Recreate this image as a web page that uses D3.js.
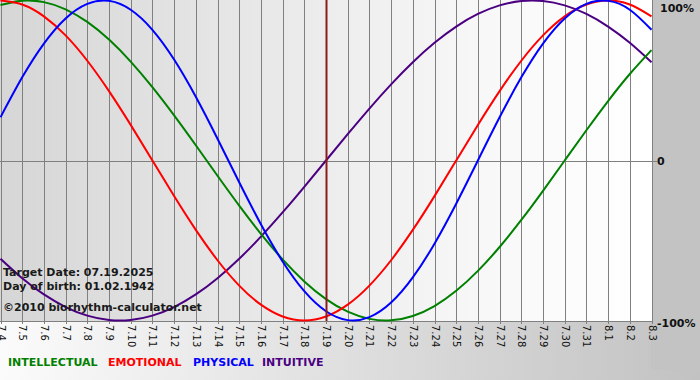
<!DOCTYPE html>
<html><head><meta charset="utf-8">
<script src="https://cdn.jsdelivr.net/npm/d3@7"></script>
<style>html,body{margin:0;padding:0;background:#fff;}svg{display:block;}</style>
</head><body><div id="chart"></div>
<script>
const days = ["7.4","7.5","7.6","7.7","7.8","7.9","7.10","7.11","7.12","7.13","7.14","7.15","7.16","7.17","7.18","7.19","7.20","7.21","7.22","7.23","7.24","7.25","7.26","7.27","7.28","7.29","7.30","7.31","8.1","8.2","8.3"];
const intellectual = [0.9718,0.9989,0.9898,0.9450,0.8660,0.7557,0.6182,0.4582,0.2817,0.0951,-0.0951,-0.2817,-0.4582,-0.6182,-0.7557,-0.8660,-0.9450,-0.9898,-0.9989,-0.9718,-0.9096,-0.8146,-0.6901,-0.5406,-0.3717,-0.1893,0,0.1893,0.3717,0.5406,0.6901];
const emotional = [1,0.9749,0.9010,0.7818,0.6235,0.4339,0.2225,0,-0.2225,-0.4339,-0.6235,-0.7818,-0.9010,-0.9749,-1,-0.9749,-0.9010,-0.7818,-0.6235,-0.4339,-0.2225,0,0.2225,0.4339,0.6235,0.7818,0.9010,0.9749,1,0.9749,0.9010];
const physical = [0.2698,0.5196,0.7308,0.8879,0.9791,0.9977,0.9423,0.8170,0.6311,0.3984,0.1362,-0.1362,-0.3984,-0.6311,-0.8170,-0.9423,-0.9977,-0.9791,-0.8879,-0.7308,-0.5196,-0.2698,0,0.2698,0.5196,0.7308,0.8879,0.9791,0.9977,0.9423,0.8170];
const intuitive = [-0.6142,-0.7357,-0.8372,-0.9158,-0.9694,-0.9966,-0.9966,-0.9694,-0.9158,-0.8372,-0.7357,-0.6142,-0.4759,-0.3247,-0.1646,0,0.1646,0.3247,0.4759,0.6142,0.7357,0.8372,0.9158,0.9694,0.9966,0.9966,0.9694,0.9158,0.8372,0.7357,0.6142];
const seriesNames = ["INTELLECTUAL","EMOTIONAL","PHYSICAL","INTUITIVE"];
const seriesColors = ["#008000","#ff0000","#0000ff","#4b0082"];
const yTickLabels = ["100%","0","-100%"];
const yTickValues = [1,0,-1];
const targetDay = "7.19";
const infoLines = ["Target Date: 07.19.2025","Day of birth: 01.02.1942","©2010 biorhythm-calculator.net"];

const W = 700, H = 380;
const svg = d3.select("#chart").append("svg").attr("width", W).attr("height", H);
const defs = svg.append("defs");
const gBg = defs.append("linearGradient").attr("id","bgGrad").attr("x1","0").attr("x2","1").attr("y1","0").attr("y2","0");
gBg.append("stop").attr("offset","0").attr("stop-color","#fbfbfb");
gBg.append("stop").attr("offset","1").attr("stop-color","#c2c2c2");
const gPlot = defs.append("linearGradient").attr("id","plotGrad").attr("x1","0").attr("x2","1").attr("y1","0").attr("y2","0");
gPlot.append("stop").attr("offset","0").attr("stop-color","#d6d6d6");
gPlot.append("stop").attr("offset","0.75").attr("stop-color","#f8f8f8");
gPlot.append("stop").attr("offset","1").attr("stop-color","#ffffff");

svg.append("rect").attr("width",W).attr("height",H).attr("fill","url(#bgGrad)");

const plotL = 0, plotR = 651, plotT = 0, plotB = 321;
svg.append("rect").attr("x",plotR).attr("y",0).attr("width",W-plotR).attr("height",370).attr("fill","#c3c3c3");

const x = d3.scaleLinear().domain([0, days.length-1]).range([plotL+0.5, plotR+0.5]);
const y = d3.scaleLinear().domain([-1,1]).range([plotB-0.5, plotT+0.5]);

svg.append("rect").attr("x",plotL).attr("y",plotT).attr("width",plotR-plotL+1).attr("height",plotB-plotT).attr("fill","url(#plotGrad)");

// vertical grid
svg.append("g").selectAll("line").data(days).join("line")
  .attr("x1",(d,i)=>Math.round(x(i))+0.5).attr("x2",(d,i)=>Math.round(x(i))+0.5)
  .attr("y1",plotT).attr("y2",plotB+3)
  .attr("stroke","#808080").attr("stroke-width",1);
// zero line
svg.append("line").attr("x1",plotL).attr("x2",plotR+6).attr("y1",Math.round(y(0))+0.5).attr("y2",Math.round(y(0))+0.5)
  .attr("stroke","#808080");
// bottom axis line
svg.append("line").attr("x1",plotL).attr("x2",plotR+1).attr("y1",plotB+0.5).attr("y2",plotB+0.5).attr("stroke","#808080");

// x tick labels (rotated)
svg.append("g").selectAll("text").data(days).join("text")
  .attr("transform",(d,i)=>`translate(${Math.round(x(i))+0.5},${plotB+4}) rotate(90)`)
  .attr("dy","0.35em")
  .attr("font-family","DejaVu Sans, Verdana, sans-serif").attr("font-size","10px")
  .attr("fill","#111").text(d=>d);

// y labels
svg.append("g").selectAll("text").data(yTickValues).join("text")
  .attr("x",(d,i)=> i===0 ? 660 : 657)
  .attr("y",(d,i)=>[12,165,327][i])
  .attr("font-family","DejaVu Sans, Verdana, sans-serif").attr("font-size","11px").attr("font-weight","bold")
  .attr("fill","#111").text((d,i)=>yTickLabels[i]);

// curves
const line = d3.line().x((d,i)=>x(i)).y(d=>y(d)).curve(d3.curveNatural);
const order = [[intuitive,seriesColors[3]],[intellectual,seriesColors[0]],[emotional,seriesColors[1]],[physical,seriesColors[2]]];
svg.append("g").selectAll("path").data(order).join("path")
  .attr("d",d=>line(d[0])).attr("fill","none").attr("stroke",d=>d[1]).attr("stroke-width",2);

// target marker
const ti = days.indexOf(targetDay);
svg.append("line").attr("x1",Math.round(x(ti))+0.5).attr("x2",Math.round(x(ti))+0.5).attr("y1",plotT).attr("y2",plotB)
  .attr("stroke","#8b1c1c").attr("stroke-width",2);

// info text
svg.append("g").selectAll("text").data(infoLines).join("text")
  .attr("x",3).attr("y",(d,i)=>[276,290,311][i])
  .attr("font-family","DejaVu Sans, Verdana, sans-serif").attr("font-size","11px").attr("font-weight","bold")
  .attr("fill","#1a1a1a").text(d=>d);

// legend
const legX = [8,108,193,262];
svg.append("g").selectAll("text").data(seriesNames).join("text")
  .attr("x",(d,i)=>legX[i]).attr("y",366)
  .attr("font-family","DejaVu Sans, Verdana, sans-serif").attr("font-size","11px").attr("font-weight","bold")
  .attr("fill",(d,i)=>seriesColors[i]).text(d=>d);
</script></body></html>
